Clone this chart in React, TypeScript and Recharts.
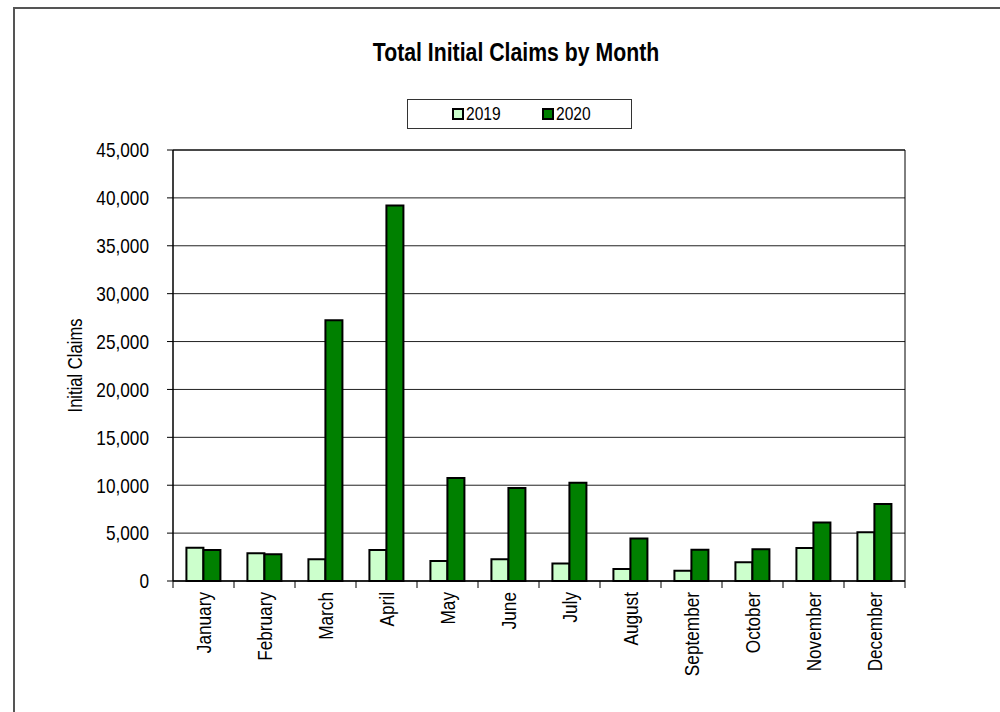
import { BarChart, Bar, XAxis, YAxis, CartesianGrid, Legend, ReferenceArea } from 'recharts';

const months = [
  'January', 'February', 'March', 'April', 'May', 'June',
  'July', 'August', 'September', 'October', 'November', 'December',
];
const claims2019 = [3480, 2890, 2260, 3240, 2080, 2260, 1840, 1240, 1060, 1970, 3450, 5100];
const claims2020 = [3240, 2780, 27230, 39200, 10750, 9700, 10270, 4430, 3270, 3310, 6110, 8050];
const yTicks = [0, 5000, 10000, 15000, 20000, 25000, 30000, 35000, 40000, 45000];

// no narrow font installed, so Liberation Sans gets squeezed horizontally
const FONT = "'Liberation Sans', Arial, sans-serif";
const SQUEEZE = 0.82;
const LIGHT = '#ccffcc';
const DARK = '#008000';

const data = months.map((month, i) => ({
  month,
  y2019: claims2019[i],
  y2020: claims2020[i],
}));

const TICK_MARGIN = 11;

function MonthTick(props: any) {
  const { x, y, payload, index } = props;
  const half = payload.offset ?? 30.5;
  const axisY = y - TICK_MARGIN;
  return (
    <g>
      <line x1={x - half} x2={x - half} y1={axisY} y2={axisY + 7} stroke="#000" />
      {index === months.length - 1 && (
        <line x1={x + half} x2={x + half} y1={axisY} y2={axisY + 7} stroke="#000" />
      )}
      <text
        transform={`translate(${x},${y}) rotate(-90) scale(${SQUEEZE},1)`}
        textAnchor="end"
        dy="0.35em"
        fontSize={21}
        fontFamily={FONT}
        fill="#000"
      >
        {payload.value}
      </text>
    </g>
  );
}

function ValueTick(props: any) {
  const { x, y, payload } = props;
  return (
    <text
      transform={`translate(${x},${y}) scale(${SQUEEZE},1)`}
      textAnchor="end"
      dy="0.35em"
      fontSize={21}
      fontFamily={FONT}
      fill="#000"
    >
      {payload.value.toLocaleString('en-US')}
    </text>
  );
}

function YLabel(props: any) {
  const { viewBox } = props;
  const cx = viewBox.x + 75;
  const cy = viewBox.y + viewBox.height / 2;
  return (
    <text
      transform={`translate(${cx},${cy}) rotate(-90) scale(0.79,1)`}
      textAnchor="middle"
      dy="0.35em"
      fontSize={21}
      fontFamily={FONT}
      fill="#000"
    >
      Initial Claims
    </text>
  );
}

function LegendBox() {
  const items = [
    { label: '2019', color: LIGHT },
    { label: '2020', color: DARK },
  ];
  return (
    <div
      style={{
        width: '100%',
        height: '100%',
        boxSizing: 'border-box',
        border: '1px solid #333',
        background: '#fff',
        display: 'flex',
        alignItems: 'center',
        paddingLeft: 44,
        fontFamily: FONT,
        fontSize: 19,
      }}
    >
      {items.map((it) => (
        <span key={it.label} style={{ display: 'flex', alignItems: 'center', width: 93 }}>
          <span
            style={{
              width: 8,
              height: 8,
              border: '2px solid #000',
              background: it.color,
              display: 'inline-block',
              marginRight: 2,
            }}
          />
          <span style={{ display: 'inline-block', transform: `scaleX(${SQUEEZE})`, transformOrigin: 'left center' }}>
            {it.label}
          </span>
        </span>
      ))}
    </div>
  );
}

export default function App() {
  return (
    <div style={{ position: 'absolute', left: 0, top: 0, width: 1000, height: 712, overflow: 'hidden', background: '#fff' }}>
      <div
        style={{
          position: 'absolute',
          left: 13,
          top: 7,
          width: 1000,
          height: 720,
          borderLeft: '2px solid #555',
          borderTop: '2px solid #555',
        }}
      />
      <div
        style={{
          position: 'absolute',
          left: 316,
          top: 37,
          width: 400,
          textAlign: 'center',
          fontFamily: FONT,
          fontWeight: 'bold',
          fontSize: 25,
          lineHeight: '30px',
          transform: 'scaleX(0.85)',
        }}
      >
        Total Initial Claims by Month
      </div>
      <BarChart
        width={1000}
        height={712}
        data={data}
        margin={{ top: 150, right: 95, bottom: 0, left: 0 }}
        barCategoryGap="22%"
        barGap={0}
        style={{ position: 'absolute', left: 0, top: 0 }}
      >
        <CartesianGrid vertical={false} stroke="#222" />
        <ReferenceArea y1={0} y2={45000} fill="none" stroke="#000" strokeWidth={1} />
        <XAxis
          dataKey="month"
          height={131}
          axisLine={{ stroke: '#000' }}
          tickLine={false}
          tickSize={0}
          tickMargin={TICK_MARGIN}
          interval={0}
          tick={<MonthTick />}
        />
        <YAxis
          width={173}
          domain={[0, 45000]}
          ticks={yTicks}
          interval={0}
          tickSize={6}
          tickMargin={18}
          axisLine={{ stroke: '#000' }}
          tickLine={{ stroke: '#000' }}
          tick={<ValueTick />}
          label={<YLabel />}
        />
        <Legend
          layout="horizontal"
          verticalAlign="middle"
          align="center"
          content={<LegendBox />}
          wrapperStyle={{ left: 407, top: 99, width: 225, height: 30 }}
        />
        <Bar dataKey="y2019" name="2019" fill={LIGHT} stroke="#000" strokeWidth={2} isAnimationActive={false} />
        <Bar dataKey="y2020" name="2020" fill={DARK} stroke="#000" strokeWidth={2} isAnimationActive={false} />
      </BarChart>
    </div>
  );
}
